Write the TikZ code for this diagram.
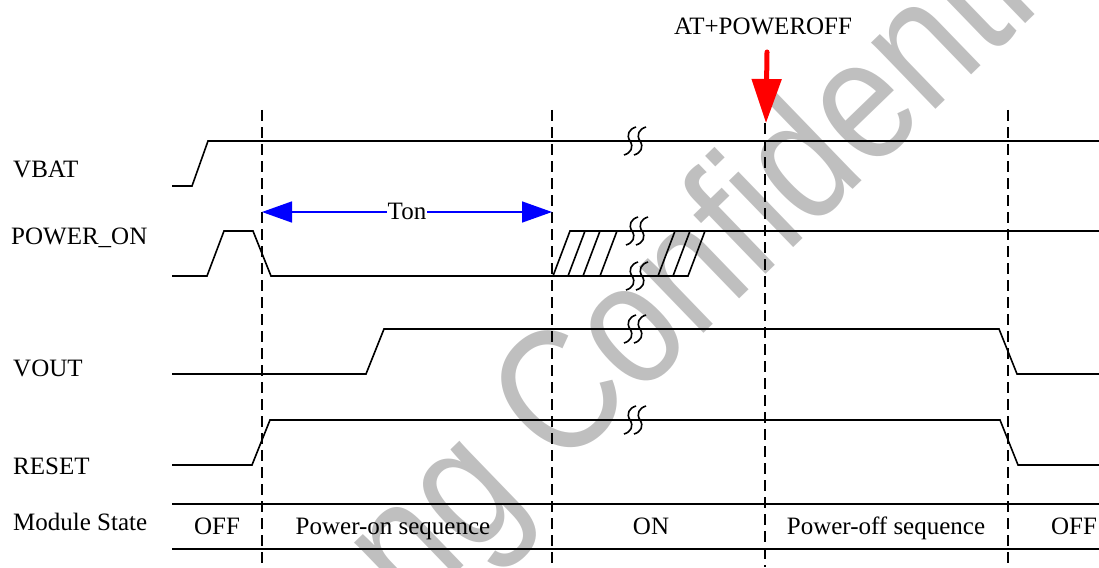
\documentclass[tikz,border=0pt]{standalone}
\usepackage{fontspec}
\setmainfont{Liberation Serif}
\newfontfamily\wmfont{Liberation Sans}
\usetikzlibrary{arrows.meta}
\begin{document}
\begin{tikzpicture}[x=1pt,y=-1pt,
  sig/.style={line width=1.6pt, line join=miter},
  dsh/.style={line width=1.6pt, dash pattern=on 11pt off 6pt},
  lbl/.style={font=\fontsize{25}{30}\selectfont, inner sep=0pt, anchor=base west},
  ctr/.style={font=\fontsize{25}{30}\selectfont, inner sep=0pt, anchor=base},
  wm/.style={font=\wmfont\fontsize{175}{190}\selectfont, text=black!25, inner sep=0pt, anchor=base west, rotate=44, xscale=0.85},
  tonarrow/.style={line width=1.5pt, blue, {Triangle[length=30pt,width=21pt]}-{Triangle[length=30pt,width=21pt]}},
  redarrow/.style={line width=5pt, red, line cap=round, -{Triangle[length=44pt,width=29pt]}},
  brk/.pic={
    \draw[line width=1.6pt] (6,-14) .. controls (-1,-12) and (-4,-6) .. (0,0) .. controls (4,6) and (1,12) .. (-6,14);
    \draw[line width=1.6pt] (16,-14) .. controls (9,-12) and (6,-6) .. (10,0) .. controls (14,6) and (11,12) .. (4,14);
  }]
\useasboundingbox (0,0) rectangle (1099,567);
% watermark
\begin{scope}
  \clip (0,0) rectangle (1099,567);
  \node[wm] (wmark) at (411.5,616.3) {ng Confidential};
\end{scope}
% labels
\node[lbl] (vbat) at (13,177.5) {VBAT};
\node[lbl] (pwron) at (11,244) {POWER\_ON};
\node[lbl] (vout) at (13,376) {VOUT};
\node[lbl] (reset) at (13,474) {RESET};
\node[lbl] (mstate) at (13,530) {Module State};
% dashed lines
\coordinate (d1t) at (262,110); \coordinate (d1b) at (262,567);
\coordinate (d2t) at (552,110); \coordinate (d2b) at (552,567);
\coordinate (d3t) at (765,123); \coordinate (d3b) at (765,567);
\coordinate (d4t) at (1008,110); \coordinate (d4b) at (1008,567);
\draw[dsh] (d1t) -- (d1b);
\draw[dsh] (d2t) -- (d2b);
\draw[dsh] (d3t) -- (d3b);
\draw[dsh] (d4t) -- (d4b);
% VBAT
\draw[sig] (172,186) -- (192,186) -- (208,141) -- (1099,141);
% POWER_ON
\draw[sig] (172,276) -- (207,276) -- (224,231) -- (253,231) -- (271,276) -- (688,276) -- (705,231);
\draw[sig] (553,276) -- (570,231) -- (1099,231);
\foreach \b in {568,583,600,658,673} \draw[sig] (\b,276) -- ++(17,-45);
% VOUT
\draw[sig] (172,374) -- (366,374) -- (384,329) -- (999,329) -- (1017,374) -- (1099,374);
% RESET
\draw[sig] (172,465) -- (252,465) -- (270,420) -- (1000,420) -- (1018,465) -- (1099,465);
% module state rows
\draw[sig] (172,504) -- (1099,504);
\draw[sig] (172,549) -- (1099,549);
% breaks
\pic at (630,141) {brk};
\pic at (632,231) {brk};
\pic at (632,276) {brk};
\pic at (630,329) {brk};
\pic at (630,420) {brk};
% Ton
\coordinate (tonL) at (262,212);
\coordinate (tonR) at (552,212);
\draw[tonarrow] (tonL) -- (tonR);
\node[font=\fontsize{25}{30}\selectfont, fill=white, inner xsep=1pt, inner ysep=2pt] (ton) at (407,211) {Ton};
% AT+POWEROFF
\node[ctr] (atcmd) at (763,35) {AT+POWEROFF};
\coordinate (rs) at (767,52);
\coordinate (rt) at (766,123);
\draw[redarrow] (rs) -- (rt);
% states
\node[ctr] (s1) at (217,534.5) {OFF};
\node[ctr] (s2) at (393,534.5) {Power-on sequence};
\node[ctr] (s3) at (651,534.5) {ON};
\node[ctr] (s4) at (886,534.5) {Power-off sequence};
\node[ctr] (s5) at (1074,534.5) {OFF};
\end{tikzpicture}
\end{document}
